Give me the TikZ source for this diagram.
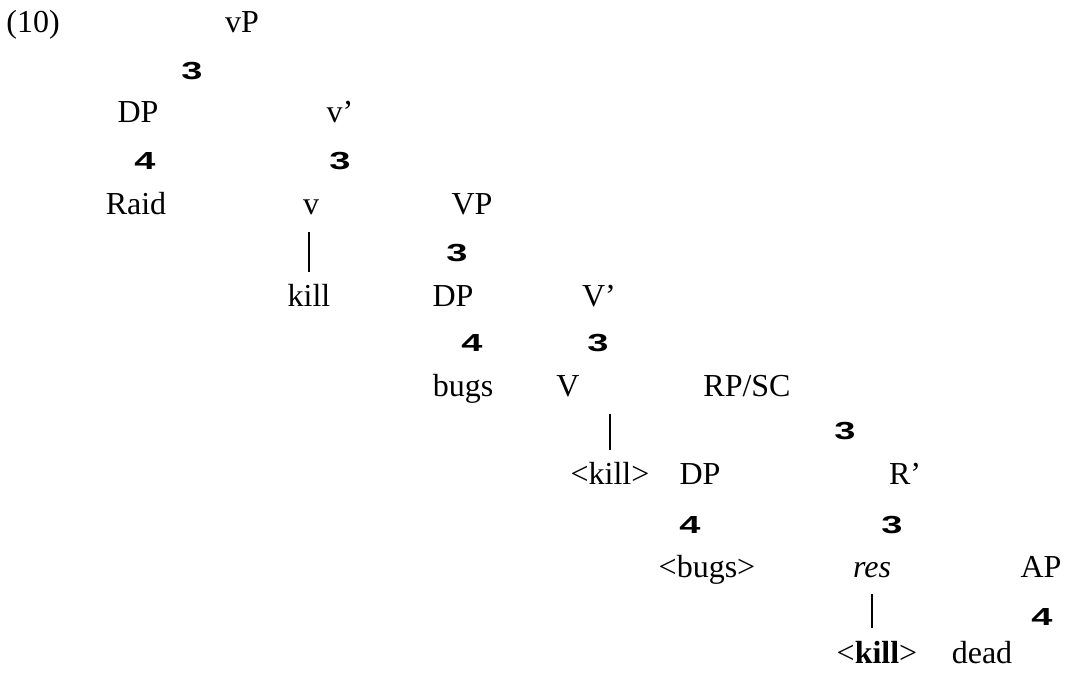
\documentclass[tikz,border=0pt]{standalone}
\usepackage{fontspec}
\setmainfont{Liberation Serif}
\newfontfamily\branchfont{Liberation Sans}
\usetikzlibrary{calc}
\tikzset{
	cat/.style={anchor=base, inner sep=0pt, font=\fontsize{16}{18}\selectfont},
	fork/.style={anchor=base, inner sep=0pt, font=\fontsize{19}{20}\branchfont\bfseries, yscale=.65, transform shape},
	bar/.style={line width=1.3pt, shorten <=8pt, shorten >=6pt},
}

\begin{document}
\begin{tikzpicture}[x=0.5pt,y=-0.5pt]
		\useasboundingbox (0,0) rectangle (1071,673);
		\node[cat,anchor=base west] (ex) at (6,33) {(10)};
		\node[cat] (vP) at (242,33) {vP};
		\node[fork] (b1) at (192,80) {3};
		\node[cat] (DPa) at (138,123) {DP};
		\node[cat] (vbar) at (340,123) {v’};
		\node[fork] (b2) at (145,170) {4};
		\node[fork] (b3) at (340,170) {3};
		\node[cat] (raid) at (136,215) {Raid};
		\node[cat] (v) at (311,215) {v};
		\node[cat] (VP) at (472,215) {VP};
		\node[fork] (b4) at (457,262) {3};
		\node[cat] (kill1) at (309,307) {kill};
		\node[cat] (DPb) at (453,307) {DP};
		\node[cat] (Vbar) at (599,307) {V’};
		\node[fork] (b5) at (472,352) {4};
		\node[fork] (b6) at (598,352) {3};
		\node[cat] (bugs) at (463,397) {bugs};
		\node[cat] (V) at (568,397) {V};
		\node[cat] (RP) at (747,397) {RP/SC};
		\node[fork] (b7) at (845,440) {3};
		\node[cat] (kill2) at (610,485) {<kill>};
		\node[cat] (DPc) at (700,485) {DP};
		\node[cat] (Rbar) at (905,485) {R’};
		\node[fork] (b8) at (690,533) {4};
		\node[fork] (b9) at (892,533) {3};
		\node[cat] (bugs2) at (707,577) {<bugs>};
		\node[cat] (res) at (872,577) {\textit{res}};
		\node[cat] (AP) at (1041,577) {AP};
		\node[fork] (b10) at (1042,625) {4};
		\node[cat] (kill3) at (877,663) {<\textbf{kill}>};
		\node[cat] (dead) at (982,663) {dead};
		% head lines
		\draw[bar] (v.south -| kill1) -- (kill1.north);
		\draw[bar] (V.south -| kill2) -- (kill2.north);
		\draw[bar] (res.south) -- (res.south |- kill3.north);
	\end{tikzpicture}
\end{document}
